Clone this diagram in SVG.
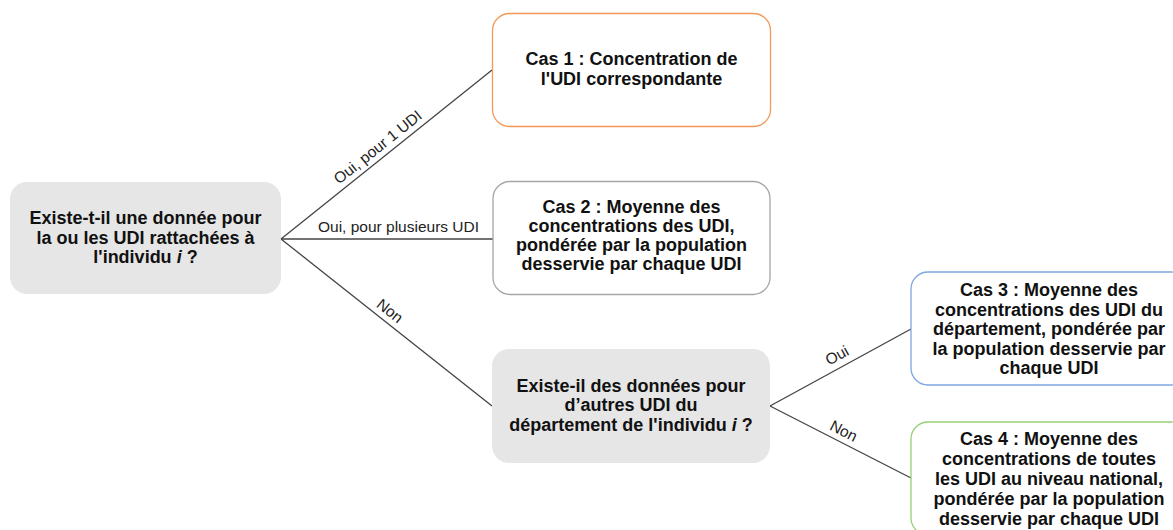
<svg xmlns="http://www.w3.org/2000/svg" width="1173" height="530" viewBox="0 0 1173 530">
<style>
.bg{fill:#ffffff}
.q{fill:#e6e6e6;stroke:none}
.c{fill:#ffffff;stroke-width:1.3}
.t{font-family:"Liberation Sans",Arial,sans-serif;font-size:18px;font-weight:bold;fill:#111111;text-anchor:middle}
.l{font-family:"Liberation Sans",Arial,sans-serif;font-size:15.5px;fill:#222222;text-anchor:middle}
.e{stroke:#444444;stroke-width:1.3;fill:none}
</style>
<rect class="bg" x="0" y="0" width="1173" height="530"/>
<g id="connectors">
<line class="e" x1="281" y1="239" x2="492" y2="70"/>
<line class="e" x1="281" y1="239" x2="493" y2="239"/>
<line class="e" x1="281" y1="239" x2="492" y2="406"/>
<line class="e" x1="770" y1="406" x2="911" y2="329"/>
<line class="e" x1="770" y1="406" x2="911" y2="478"/>
<text class="l" transform="translate(281,239) rotate(-38.66)" x="133" y="-6">Oui, pour 1 UDI</text>
<text class="l" x="398.5" y="232">Oui, pour plusieurs UDI</text>
<text class="l" transform="translate(281,239) rotate(38.36)" x="130" y="-6">Non</text>
<text class="l" transform="translate(770,406) rotate(-28.64)" x="83" y="-7">Oui</text>
<text class="l" transform="translate(770,406) rotate(27.05)" x="77" y="-6">Non</text>
</g>
<g id="q1">
<rect class="q" x="10" y="182" width="271" height="112" rx="17"/>
<text class="t" x="145.5" y="224">Existe-t-il une donnée pour</text>
<text class="t" x="145.5" y="243.5">la ou les UDI rattachées à</text>
<text class="t" x="145.5" y="263">l'individu <tspan font-style="italic">i</tspan> ?</text>
</g>
<g id="cas1">
<rect class="c" x="492.5" y="13.5" width="278" height="113" rx="17" stroke="#F2995A"/>
<text class="t" x="631.5" y="65">Cas 1 : Concentration de</text>
<text class="t" x="631.5" y="84.5">l'UDI correspondante</text>
</g>
<g id="cas2">
<rect class="c" x="493" y="181.5" width="277" height="113" rx="17" stroke="#a6a6a6"/>
<text class="t" x="631.5" y="212.5">Cas 2 : Moyenne des</text>
<text class="t" x="631.5" y="231.8">concentrations des UDI,</text>
<text class="t" x="631.5" y="251">pondérée par la population</text>
<text class="t" x="631.5" y="270.3">desservie par chaque UDI</text>
</g>
<g id="q2">
<rect class="q" x="492" y="349" width="278" height="114" rx="17"/>
<text class="t" x="631" y="391.7">Existe-il des données pour</text>
<text class="t" x="631" y="411.2">d’autres UDI du</text>
<text class="t" x="631" y="430.7">département de l'individu <tspan font-style="italic">i</tspan> ?</text>
</g>
<g id="cas3">
<rect class="c" x="911" y="272" width="277" height="113" rx="17" stroke="#7EA6E0"/>
<text class="t" x="1049" y="296">Cas 3 : Moyenne des</text>
<text class="t" x="1049" y="315.5">concentrations des UDI du</text>
<text class="t" x="1049" y="335">département, pondérée par</text>
<text class="t" x="1049" y="354.5">la population desservie par</text>
<text class="t" x="1049" y="374">chaque UDI</text>
</g>
<g id="cas4">
<rect class="c" x="911" y="422" width="277" height="113" rx="17" stroke="#97D077"/>
<text class="t" x="1049" y="445">Cas 4 : Moyenne des</text>
<text class="t" x="1049" y="465">concentrations de toutes</text>
<text class="t" x="1049" y="485">les UDI au niveau national,</text>
<text class="t" x="1049" y="505">pondérée par la population</text>
<text class="t" x="1049" y="525">desservie par chaque UDI</text>
</g>
</svg>
